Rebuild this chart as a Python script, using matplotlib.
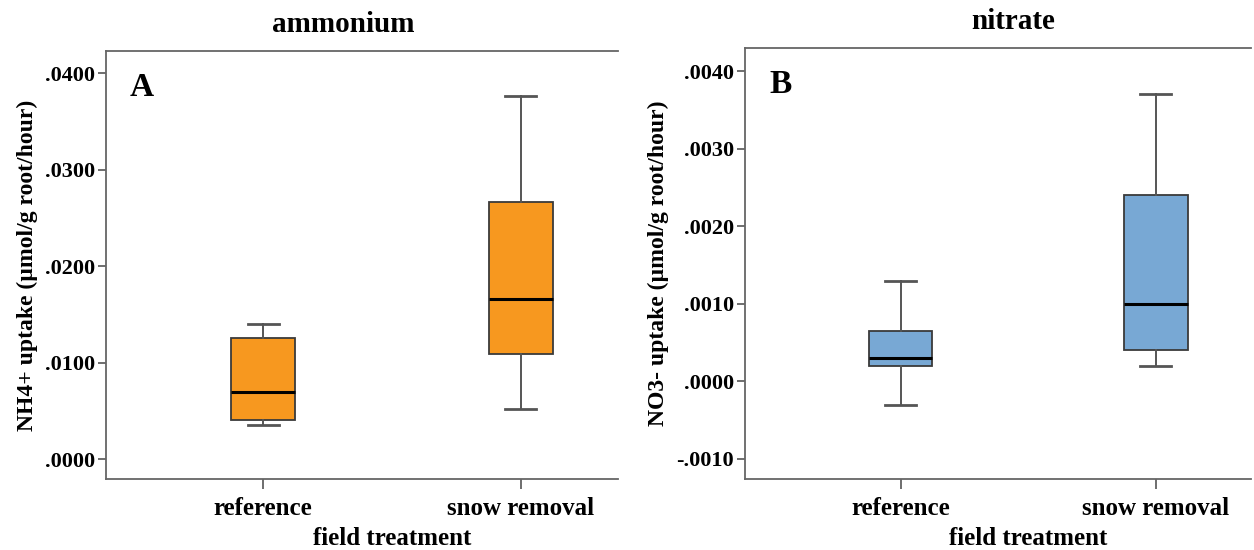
import matplotlib
matplotlib.use('Agg')
import matplotlib.pyplot as plt
from matplotlib.ticker import FuncFormatter

plt.rcParams['font.family'] = ['Liberation Serif', 'DejaVu Serif']
plt.rcParams['font.weight'] = 'bold'
plt.rcParams['axes.labelweight'] = 'bold'

treatments = ['reference', 'snow removal']

# NH4+ uptake box stats (whisker low, Q1, median, Q3, whisker high)
nh4_lo = [0.0035, 0.0052]
nh4_q1 = [0.0040, 0.0109]
nh4_med = [0.0070, 0.0166]
nh4_q3 = [0.0125, 0.0266]
nh4_hi = [0.0140, 0.0376]

# NO3- uptake box stats
no3_lo = [-0.0003, 0.0002]
no3_q1 = [0.0002, 0.0004]
no3_med = [0.0003, 0.0010]
no3_q3 = [0.00065, 0.0024]
no3_hi = [0.0013, 0.0037]

nh4_ticks = [0.0, 0.01, 0.02, 0.03, 0.04]
no3_ticks = [-0.001, 0.0, 0.001, 0.002, 0.003, 0.004]


def make_stats(lo, q1, med, q3, hi):
    stats = []
    for i in range(len(lo)):
        stats.append({'whislo': lo[i], 'q1': q1[i], 'med': med[i],
                      'q3': q3[i], 'whishi': hi[i], 'fliers': []})
    return stats


def fmt(v, pos):
    s = '%.4f' % v
    s = s.replace('0.', '.', 1)
    if s == '-.0000':
        s = '.0000'
    return s


def draw_panel(ax, stats, color, ticks, ylim, ylabel, title, title_x, title_y, letter):
    ax.bxp(stats, positions=[0, 1], widths=0.25, showfliers=False,
           patch_artist=True,
           boxprops=dict(facecolor=color, edgecolor='#3a3a3a', linewidth=1.3),
           medianprops=dict(color='black', linewidth=2.2),
           whiskerprops=dict(color='#555555', linewidth=1.4),
           capprops=dict(color='#555555', linewidth=2.0), capwidths=0.12)
    ax.set_xlim(-0.61, 1.375)
    ax.set_ylim(*ylim)
    ax.set_yticks(ticks)
    ax.yaxis.set_major_formatter(FuncFormatter(fmt))
    ax.set_xticks([0, 1])
    ax.set_xticklabels(treatments, fontsize=18)
    ax.tick_params(axis='y', labelsize=16, length=6, width=1.2, color='#555555', pad=2)
    ax.tick_params(axis='x', length=7, width=1.2, color='#555555', pad=6)
    for side in ['left', 'top', 'bottom']:
        ax.spines[side].set_color('#666666')
        ax.spines[side].set_linewidth(1.3)
    ax.spines['right'].set_visible(False)
    ax.set_ylabel(ylabel, fontsize=17, labelpad=5)
    ax.set_xlabel('field treatment', fontsize=18)
    ax.xaxis.set_label_coords(0.559, -0.112)
    ax.text(title_x, title_y, title, transform=ax.transAxes, fontsize=21,
            ha='center', va='center')
    ax.text(0.07, 0.915, letter, transform=ax.transAxes, fontsize=24,
            ha='center', va='center')


fig = plt.figure(figsize=(12.54, 5.5), dpi=100)
ax1 = fig.add_axes([0.0845, 0.129, 0.408, 0.778])
ax2 = fig.add_axes([0.594, 0.129, 0.404, 0.784])

draw_panel(ax1, make_stats(nh4_lo, nh4_q1, nh4_med, nh4_q3, nh4_hi), '#F7981F',
           nh4_ticks, (-0.00207, 0.04228),
           'NH4+ uptake (\u00b5mol/g root/hour)', 'ammonium', 0.463, 1.062, 'A')
draw_panel(ax2, make_stats(no3_lo, no3_q1, no3_med, no3_q3, no3_hi), '#78A8D4',
           no3_ticks, (-0.00126, 0.0043),
           'NO3- uptake (\u00b5mol/g root/hour)', 'nitrate', 0.53, 1.06, 'B')

fig.savefig('out.png', dpi=100)
